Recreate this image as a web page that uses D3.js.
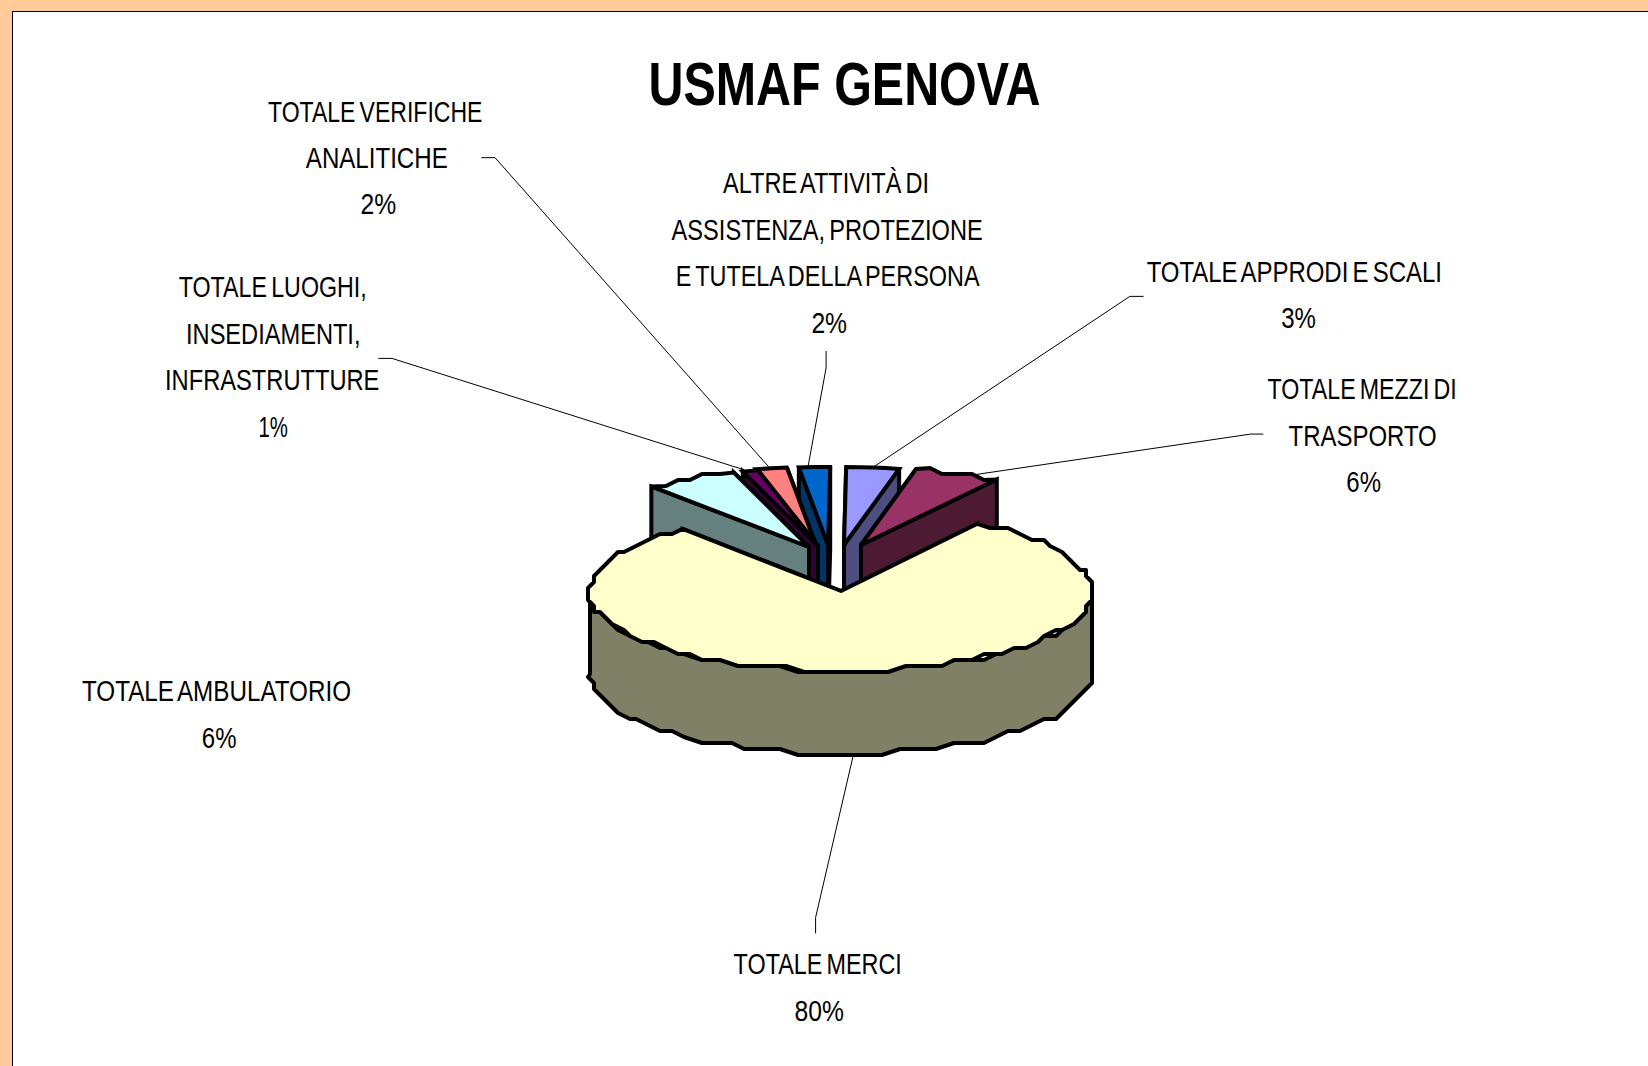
<!DOCTYPE html>
<html>
<head>
<meta charset="utf-8">
<script src="https://d3js.org/d3.v7.min.js"></script>
<style>
  html, body { margin: 0; padding: 0; background: #FFCC99; overflow: hidden; }
</style>
</head>
<body>
<div id="chart"></div>
<script>
  const title = "USMAF GENOVA";
  const categories = ["TOTALE APPRODI E SCALI", "TOTALE MEZZI DI TRASPORTO", "TOTALE MERCI", "TOTALE AMBULATORIO",
    "TOTALE LUOGHI, INSEDIAMENTI, INFRASTRUTTURE", "TOTALE VERIFICHE ANALITICHE",
    "ALTRE ATTIVITÀ DI ASSISTENZA, PROTEZIONE E TUTELA DELLA PERSONA"];
  // the labels round these
  const values = [3.4, 5.6, 80, 6, 1, 2, 2];
  const topColors = ["#9999FF", "#993366", "#FFFFCC", "#CCFFFF", "#660066", "#FF8080", "#0066CC"];
  const sideColors = ["#4D4D80", "#4D1A33", "#808066", "#668080", "#330033", "#804040", "#003366"];

  const width = 1648, height = 1066;
  const k = 1648 / 1568; // label positions below were measured on the shrunk picture

  // label lines: [category index, text, left, right, baseline]
  const labelLines = [
    [5, "TOTALE VERIFICHE", 255, 459, 116], [5, "ANALITICHE", 291, 426, 160], [5, "2%", 343, 377, 204],
    [6, "ALTRE ATTIVITÀ DI", 688, 884, 184], [6, "ASSISTENZA, PROTEZIONE", 639, 935, 228],
    [6, "E TUTELA DELLA PERSONA", 643, 932, 272], [6, "2%", 772, 806, 317],
    [0, "TOTALE APPRODI E SCALI", 1091, 1372, 268], [0, "3%", 1219, 1252, 312],
    [1, "TOTALE MEZZI DI", 1206, 1386, 380], [1, "TRASPORTO", 1226, 1367, 424], [1, "6%", 1281, 1314, 468],
    [4, "TOTALE LUOGHI,", 170, 349, 283], [4, "INSEDIAMENTI,", 177, 343, 327],
    [4, "INFRASTRUTTURE", 157, 361, 371], [4, "1%", 246, 274, 416],
    [3, "TOTALE AMBULATORIO", 78, 334, 667], [3, "6%", 192, 225, 712],
    [2, "TOTALE MERCI", 698, 858, 927], [2, "80%", 756, 803, 971]
  ];
  const leaders = [
    [[458, 150], [471, 150], [733, 446]],
    [[786, 334], [786, 350], [769, 443]],
    [[1088, 282], [1075, 282], [830, 445]],
    [[1202, 413], [1190, 413], [925, 452]],
    [[360, 341], [373, 341], [708, 447]],
    [[776, 888], [776, 873], [812, 718]]
  ];

  const svg = d3.select("#chart").append("svg")
    .attr("width", width).attr("height", height)
    .style("display", "block");

  svg.append("rect").attr("width", width).attr("height", height).attr("fill", "#FFCC99");
  svg.append("rect").attr("x", 12.5).attr("y", 11.5).attr("width", width).attr("height", height)
    .attr("fill", "#fff").attr("stroke", "#000").attr("stroke-width", 1);

  // pie geometry, each slice is exploded by its own amount
  const depth = 83;
  const tipX = [844, 861, 841, 809, 818, 816, 828];
  const tipY = [545, 545, 591, 547, 546, 545, 545];
  const rxOf = [250, 250, 251, 250, 250, 250, 250];
  const ryOf = [78, 78, 80, 78, 78, 78, 78];
  const deg = Math.PI / 180;

  const pie = d3.pie().sort(null).value(d => d)
    .startAngle(0.5 * deg).endAngle(360.5 * deg);
  const arcs = pie(values);

  const snap = v => Math.round(v / 6) * 6; // the original outline is a coarse polyline
  const line = d3.line();

  arcs.forEach((a, i) => {
    a.tipX = tipX[i];
    a.tipY = tipY[i];
    a.rx = rxOf[i];
    a.ry = ryOf[i];
  });
  const rim = (a, t) => [a.tipX + a.rx * Math.sin(t), a.tipY - a.ry * Math.cos(t)];
  function arcPoints(a, t0, t1) {
    const n = Math.max(2, Math.ceil((t1 - t0) / (4 * deg)));
    const wobble = a.value > 5; // too narrow slices keep their exact edges
    return d3.range(n + 1).map(i => {
      const p = rim(a, t0 + (t1 - t0) * i / n);
      return wobble && i > 0 && i < n ? [snap(p[0]), snap(p[1])] : p;
    });
  }

  const g = svg.append("g")
    .attr("stroke", "#000").attr("stroke-width", 4)
    .attr("stroke-linejoin", "miter").attr("stroke-miterlimit", 3);

  function face(a, t, color) {
    const p = rim(a, t);
    g.append("path").attr("fill", color)
      .attr("d", line([[a.tipX, a.tipY], p, [p[0], p[1] + depth], [a.tipX, a.tipY + depth]]) + "Z");
  }

  // back to front: right side, left side, then the big slice
  [0, 1, 6, 5, 4, 3, 2].forEach(i => {
    const a = arcs[i], color = sideColors[i];
    const onLeft = i >= 3;
    if (onLeft) {
      face(a, a.endAngle, color);
      face(a, a.startAngle, color);
    } else {
      face(a, a.startAngle, color);
      face(a, a.endAngle, color);
    }
    // outer wall, only where it faces the viewer
    const t0 = Math.max(a.startAngle, 90 * deg), t1 = Math.min(a.endAngle, 270 * deg);
    if (t1 > t0) {
      const front = arcPoints(a, t0, t1);
      const wall = front.concat(front.slice().reverse().map(p => [p[0], p[1] + depth]));
      g.append("path").attr("fill", color).attr("stroke-linejoin", "round").attr("d", line(wall) + "Z");
    }
    g.append("path").attr("fill", topColors[i])
      .attr("stroke-linejoin", i === 2 ? "round" : null)
      .attr("d", line([[a.tipX, a.tipY]].concat(arcPoints(a, a.startAngle, a.endAngle))) + "Z");
  });

  // leader lines
  svg.append("g").attr("fill", "none").attr("stroke", "#000").attr("stroke-width", 1)
    .selectAll("path").data(leaders).join("path")
    .attr("d", d => line(d.map(p => [p[0] * k, p[1] * k])));

  // texts
  svg.append("text")
    .attr("x", 617 * k).attr("y", 100 * k)
    .attr("textLength", 373 * k).attr("lengthAdjust", "spacingAndGlyphs")
    .attr("font-family", "'Liberation Sans', Arial, sans-serif")
    .attr("font-weight", "bold").attr("font-size", 62).attr("fill", "#000")
    .text(title);

  svg.append("g")
    .attr("font-family", "'Liberation Sans', Arial, sans-serif")
    .attr("font-size", 29).attr("fill", "#000").attr("word-spacing", "-0.1em")
    .selectAll("text").data(labelLines).join("text")
    .attr("x", d => d[2] * k).attr("y", d => d[4] * k)
    .attr("textLength", d => (d[3] - d[2]) * k).attr("lengthAdjust", "spacingAndGlyphs")
    .text(d => d[1]);
</script>
</body>
</html>
